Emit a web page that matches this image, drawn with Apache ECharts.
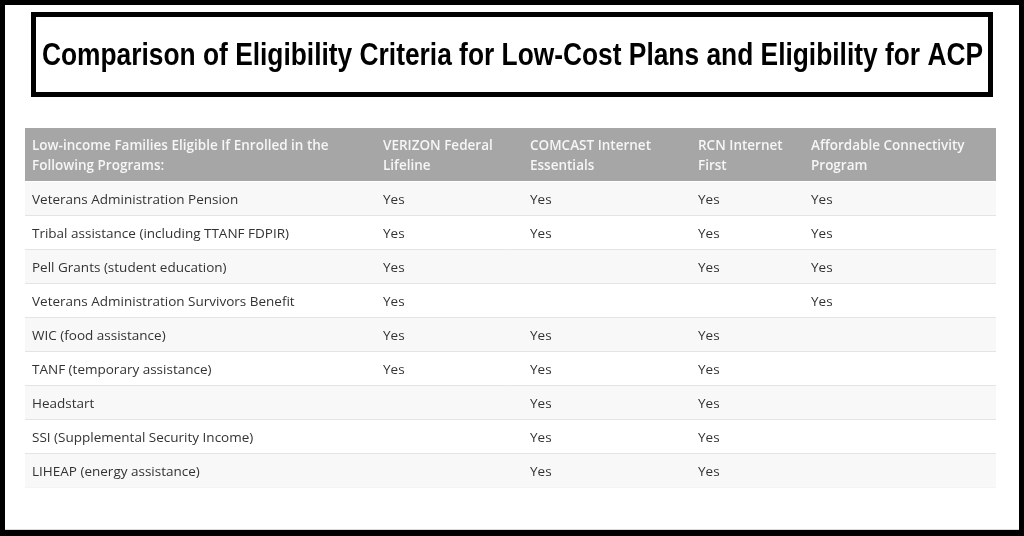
<!DOCTYPE html>
<html><head><meta charset="utf-8">
<script src="https://cdn.jsdelivr.net/npm/echarts@6/dist/echarts.min.js"></script>
<style>html,body{margin:0;padding:0;background:#000}#c{width:1024px;height:536px}</style>
</head><body><div id="c"></div>
<script>
// ---- data ----
const title = 'Comparison of Eligibility Criteria for Low-Cost Plans and Eligibility for ACP';
const headers = [
  'Low-income Families Eligible If Enrolled in the\nFollowing Programs:',
  'VERIZON Federal\nLifeline',
  'COMCAST Internet\nEssentials',
  'RCN Internet\nFirst',
  'Affordable Connectivity\nProgram'
];
const programs = [
  'Veterans Administration Pension',
  'Tribal assistance (including TTANF FDPIR)',
  'Pell Grants (student education)',
  'Veterans Administration Survivors Benefit',
  'WIC (food assistance)',
  'TANF (temporary assistance)',
  'Headstart',
  'SSI (Supplemental Security Income)',
  'LIHEAP (energy assistance)'
];
const verizon = ['Yes','Yes','Yes','Yes','Yes','Yes','','',''];
const comcast = ['Yes','Yes','','','Yes','Yes','Yes','Yes','Yes'];
const rcn     = ['Yes','Yes','Yes','','Yes','Yes','Yes','Yes','Yes'];
const acp     = ['Yes','Yes','Yes','Yes','','','','',''];

// ---- layout ----
const TBL_LEFT = 25, TBL_W = 971;
const colX = [7, 358, 505, 673, 786];
const columns = [programs, verizon, comcast, rcn, acp];

const cellData = [];
columns.forEach((col, c) => col.forEach((v, r) => { if (v) cellData.push([colX[c], r, v]); }));
const headerData = headers.map((h, c) => [colX[c], 0, h]);
const rowData = programs.map((p, r) => [0, r]);

// condensed title: measure and squeeze horizontally to the target width
const TITLE_FONT = 'bold 31px "Liberation Sans", Arial, sans-serif';
const TITLE_W = 941;
const mctx = document.createElement('canvas').getContext('2d');
mctx.font = TITLE_FONT;
const titleScale = TITLE_W / mctx.measureText(title).width;

const chart = echarts.init(document.getElementById('c'), null, {renderer: 'canvas'});
chart.setOption({
  backgroundColor: '#000',
  animation: false,
  graphic: [
    {type: 'rect', z: -10, shape: {x: 5, y: 5, width: 1014, height: 525}, style: {fill: '#fff'}},
    {type: 'line', z: -9, shape: {x1: 5, y1: 529.5, x2: 1019, y2: 529.5}, style: {stroke: '#d8d8d8', lineWidth: 1}},
    {type: 'rect', shape: {x: 33.5, y: 14.5, width: 957, height: 80}, style: {fill: 'none', stroke: '#000', lineWidth: 5}},
    {type: 'text', x: 512.5, y: 56, scaleX: titleScale, scaleY: 1, style: {text: title, fill: '#000', font: TITLE_FONT, align: 'center', verticalAlign: 'middle'}}
  ],
  grid: [
    {left: TBL_LEFT, top: 128, width: TBL_W, height: 53},
    {left: TBL_LEFT, top: 182, width: TBL_W, height: 306}
  ],
  xAxis: [
    {type: 'value', gridIndex: 0, min: 0, max: TBL_W, show: false},
    {type: 'value', gridIndex: 1, min: 0, max: TBL_W, show: false}
  ],
  yAxis: [
    {type: 'category', gridIndex: 0, data: ['header'], show: false},
    {type: 'category', gridIndex: 1, data: programs, inverse: true, show: false}
  ],
  series: [
    {
      type: 'custom', xAxisIndex: 0, yAxisIndex: 0, data: [[0, 0]], silent: true,
      renderItem: (params, api) => {
        const cs = params.coordSys;
        return {type: 'rect', shape: {x: cs.x, y: cs.y, width: cs.width, height: cs.height}, style: {fill: '#a6a6a6'}};
      }
    },
    {
      type: 'custom', xAxisIndex: 0, yAxisIndex: 0, data: headerData, silent: true, z: 3,
      renderItem: (params, api) => {
        const p = api.coord([api.value(0), api.value(1)]);
        return {type: 'text', x: p[0], y: p[1] + 1.5, style: {text: headerData[params.dataIndex][2], fill: '#f6f6f6', fontFamily: '"Open Sans", sans-serif', fontWeight: 600, fontSize: 13.5, lineHeight: 20, align: 'left', verticalAlign: 'middle'}};
      }
    },
    {
      type: 'custom', xAxisIndex: 1, yAxisIndex: 1, data: rowData, silent: true,
      renderItem: (params, api) => {
        const cs = params.coordSys;
        const r = api.value(1);
        const c = api.coord([0, r]);
        const h = api.size([0, 1])[1];
        const top = c[1] - h / 2;
        return {type: 'group', children: [
          {type: 'rect', shape: {x: cs.x, y: top, width: cs.width, height: h}, style: {fill: r % 2 === 0 ? '#f8f8f8' : '#ffffff'}},
          {type: 'line', shape: {x1: cs.x, y1: top + h - 0.5, x2: cs.x + cs.width, y2: top + h - 0.5}, style: {stroke: r === programs.length - 1 ? '#f4f4f4' : '#e4e4e4', lineWidth: 1}}
        ]};
      }
    },
    {
      type: 'custom', xAxisIndex: 1, yAxisIndex: 1, data: cellData, silent: true, z: 3,
      renderItem: (params, api) => {
        const p = api.coord([api.value(0), api.value(1)]);
        return {type: 'text', x: p[0], y: p[1] + 1, style: {text: cellData[params.dataIndex][2], fill: '#333333', fontFamily: '"Open Sans", sans-serif', fontSize: 13.5, align: 'left', verticalAlign: 'middle'}};
      }
    }
  ]
});
</script>
</body></html>
